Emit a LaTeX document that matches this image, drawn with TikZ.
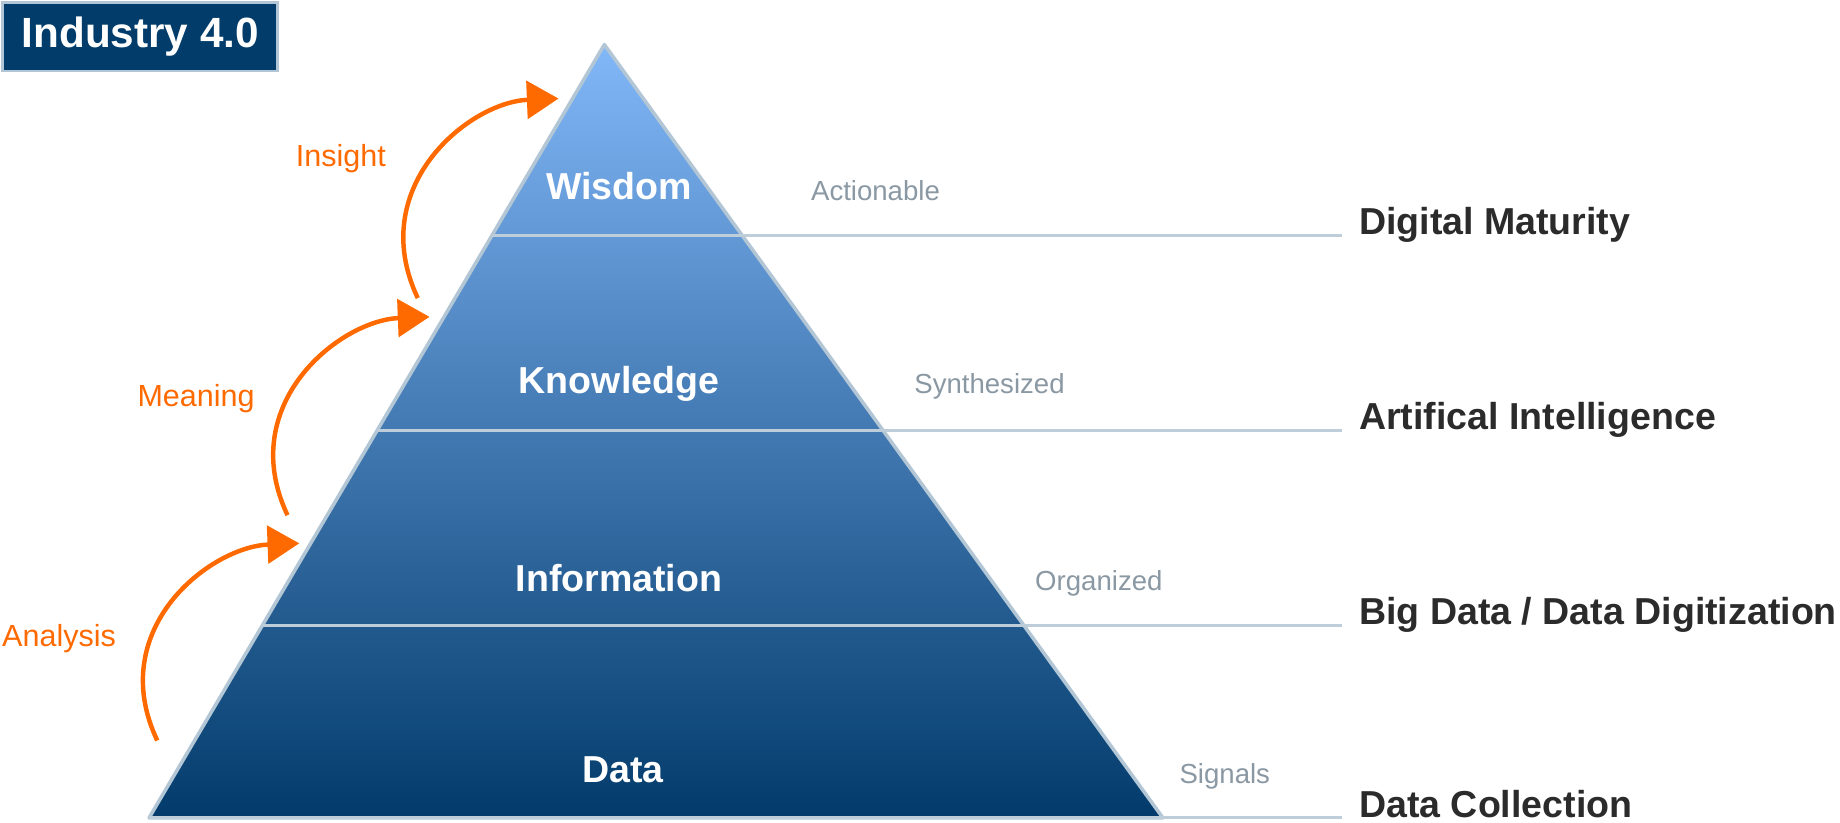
\documentclass[tikz,border=0pt]{standalone}
\usepackage{fontspec}
\setmainfont{Liberation Sans}
\usetikzlibrary{arrows.meta}
\definecolor{navy}{HTML}{023B6B}
\definecolor{boxnavy}{HTML}{013C6A}
\definecolor{topblue}{HTML}{82B7F8}
\definecolor{edgecol}{HTML}{B2C6D5}
\definecolor{rulecol}{HTML}{BDCDD9}
\definecolor{orng}{HTML}{FF6A00}
\definecolor{graytxt}{HTML}{8A98A3}
\definecolor{darktxt}{HTML}{2B2B2B}
\begin{document}
\begin{tikzpicture}[x=1pt,y=1pt,
  tier/.style={text=white,font=\fontsize{32}{36}\selectfont\bfseries,anchor=base,inner sep=0},
  note/.style={text=graytxt,font=\fontsize{23.5}{28}\selectfont,anchor=base west,inner sep=0},
  level/.style={text=darktxt,font=\fontsize{32}{38}\selectfont\bfseries,anchor=base west,inner sep=0},
  flowlabel/.style={text=orng,font=\fontsize{26}{30}\selectfont,anchor=base west,inner sep=0},
  growarrow/.style={draw=orng,line width=3.8pt,-{Triangle[length=27pt,width=32pt]}},
  ruleline/.style={draw=rulecol,line width=2.5pt},
  titlebox/.style={fill=boxnavy,draw=edgecol,line width=2.5pt,text=white,
    font=\fontsize{36}{40}\selectfont\bfseries,minimum width=234pt,minimum height=58pt,
    inner sep=0,anchor=north west}]
\useasboundingbox (0,0) rectangle (1568,-701.3);

% pyramid corners
\coordinate (apex) at (515,-38);
\coordinate (bl) at (127,-697);
\coordinate (br) at (991,-697);
% divider end points
\coordinate (l1) at (419,-201);   \coordinate (e1) at (1144,-201);
\coordinate (l2) at (321.3,-367); \coordinate (e2) at (1144,-367);
\coordinate (l3) at (223.6,-533); \coordinate (e3) at (1144,-533);
\coordinate (e4) at (1144,-697);

\shade[top color=topblue,bottom color=navy] (apex) -- (bl) -- (br) -- cycle;
\draw[draw=edgecol,line width=3pt,line join=round] (apex) -- (bl) -- (br) -- cycle;
\draw[ruleline] (l1) -- (e1);
\draw[ruleline] (l2) -- (e2);
\draw[ruleline] (l3) -- (e3);
\draw[ruleline] (bl) -- (e4);

\node[titlebox] (title) at (1.25,-1.25) {Industry 4.0};

\node[tier] (wis) at (527.5,-170) {Wisdom};
\node[tier] (kno) at (527.5,-335) {Knowledge};
\node[tier] (inf) at (527.5,-504) {Information};
\node[tier] (dat) at (531,-667) {Data};

\node[note] (act) at (691,-171) {Actionable};
\node[note] (syn) at (779,-335) {Synthesized};
\node[note] (org) at (882,-503) {Organized};
\node[note] (sig) at (1005,-668) {Signals};

\node[level] (dm) at (1158,-200) {Digital Maturity};
\node[level] (ai) at (1158,-366) {Artifical Intelligence};
\node[level] (bd) at (1158,-532) {Big Data / Data Digitization};
\node[level] (dc) at (1158,-697) {Data Collection};

\node[flowlabel] (ana) at (1.7,-550.5) {Analysis};
\node[flowlabel] (mea) at (117,-346) {Meaning};
\node[flowlabel] (ins) at (252,-141.5) {Insight};

\coordinate (a0) at (134,-631); \coordinate (a1) at (255,-463);
\coordinate (m0) at (245,-439); \coordinate (m1) at (366,-270);
\coordinate (i0) at (356,-254); \coordinate (i1) at (476,-84);
\draw[growarrow] (a0) .. controls +(-45,95) and +(-76,-3) .. (a1);
\draw[growarrow] (m0) .. controls +(-45,95) and +(-76,-3) .. (m1);
\draw[growarrow] (i0) .. controls +(-45,95) and +(-76,-3) .. (i1);
\end{tikzpicture}
\end{document}
